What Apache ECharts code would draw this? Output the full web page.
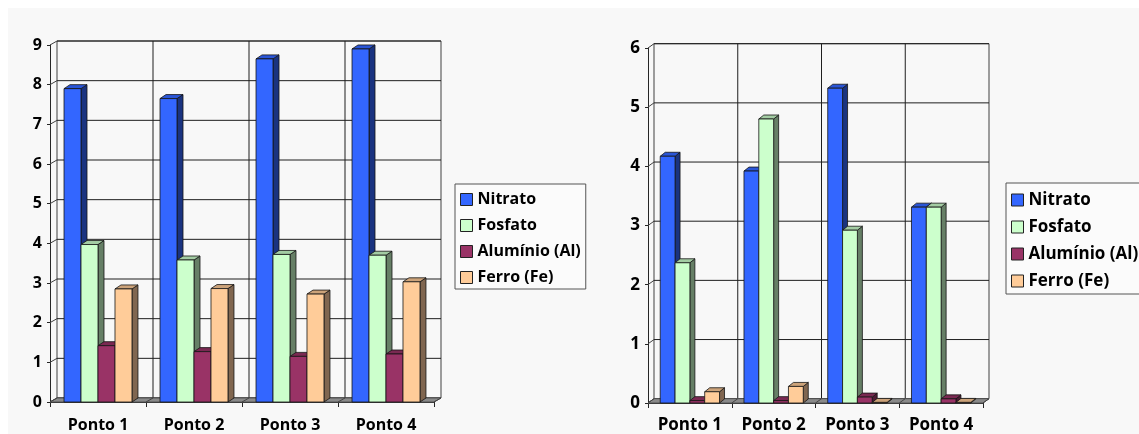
<!DOCTYPE html>
<html>
<head>
<meta charset="utf-8">
<script src="https://cdn.jsdelivr.net/npm/echarts@6/dist/echarts.min.js"></script>
<style>
  html, body { margin: 0; padding: 0; background: #ffffff; }
  #chart { width: 1139px; height: 434px; }
</style>
</head>
<body>
<div id="chart"></div>
<script>
// Categories and series names shared by both panels
const categories = ['Ponto 1', 'Ponto 2', 'Ponto 3', 'Ponto 4'];
const seriesNames = ['Nitrato', 'Fosfato', 'Alumínio (Al)', 'Ferro (Fe)'];

// Left panel values
const nitratoA = [7.9, 7.65, 8.65, 8.9];
const fosfatoA = [3.97, 3.58, 3.72, 3.7];
const aluminioA = [1.42, 1.27, 1.15, 1.21];
const ferroA = [2.85, 2.86, 2.72, 3.03];

// Right panel values
const nitratoB = [4.17, 3.92, 5.32, 3.31];
const fosfatoB = [2.37, 4.8, 2.92, 3.31];
const aluminioB = [0.04, 0.04, 0.1, 0.07];
const ferroB = [0.19, 0.28, 0.01, 0.01];

// Value-axis tick labels
const ticksA = [0, 1, 2, 3, 4, 5, 6, 7, 8, 9];
const ticksB = [0, 1, 2, 3, 4, 5, 6];

const FONT = '"Open Sans", "Noto Sans", sans-serif';

// Face colours for each series: front, side, top
const palette = [
  { front: '#3366FF', side: '#1A3380', top: '#2A55D6' },
  { front: '#CCFFCC', side: '#667F66', top: '#A3CCA3' },
  { front: '#993366', side: '#4D1A33', top: '#7A2952' },
  { front: '#FFCC99', side: '#806650', top: '#CCA37A' }
];

// Back wall, side wall and floor of a pseudo-3D plot
function wallRenderer(ticks, nCat, dx, dy) {
  return function (params, api) {
    const base = api.coord([0, 0]);
    const cw = api.size([1, 0])[0];
    const x0 = base[0] - cw / 2;
    const x1 = x0 + nCat * cw;
    const y0 = base[1];
    const yTop = api.coord([0, ticks[ticks.length - 1]])[1];
    const line = { stroke: '#1f1f1f', lineWidth: 1 };
    const children = [];
    // back wall
    children.push({
      type: 'rect',
      shape: { x: x0 + dx, y: yTop - dy, width: x1 - x0, height: y0 - yTop },
      style: { fill: '#f8f8f8', stroke: '#404040', lineWidth: 1 }
    });
    // horizontal gridlines and side-wall diagonals
    ticks.forEach(function (t) {
      const y = api.coord([0, t])[1];
      children.push({
        type: 'line',
        shape: { x1: x0 + dx, y1: y - dy, x2: x1 + dx, y2: y - dy },
        style: line
      });
      children.push({
        type: 'line',
        shape: { x1: x0, y1: y, x2: x0 + dx, y2: y - dy },
        style: { stroke: '#404040', lineWidth: 1 }
      });
    });
    // vertical category separators on the back wall
    for (let k = 1; k < nCat; k++) {
      const x = x0 + k * cw + dx;
      children.push({
        type: 'line',
        shape: { x1: x, y1: yTop - dy, x2: x, y2: y0 - dy },
        style: line
      });
    }
    // floor
    children.push({
      type: 'polygon',
      shape: { points: [[x0, y0], [x0 + dx, y0 - dy], [x1 + dx, y0 - dy], [x1, y0]] },
      style: { fill: '#8a8a8a', stroke: '#555555', lineWidth: 1 }
    });
    for (let k = 0; k <= nCat; k++) {
      const x = x0 + k * cw;
      children.push({
        type: 'line',
        shape: { x1: x, y1: y0, x2: x + dx, y2: y0 - dy },
        style: { stroke: '#444444', lineWidth: 1 }
      });
    }
    return { type: 'group', children: children };
  };
}

// One column of a clustered pseudo-3D bar set
function barRenderer(slot, colors, dx, dy) {
  return function (params, api) {
    const cat = api.value(0);
    const v = api.value(1);
    const base = api.coord([cat, 0]);
    const top = api.coord([cat, v]);
    const cw = api.size([1, 0])[0];
    const w = cw * 0.177;
    const x = base[0] - cw / 2 + cw * 0.146 + slot * w;
    const yb = base[1];
    const yt = top[1];
    const stroke = { stroke: '#151515', lineWidth: 0.8 };
    return {
      type: 'group',
      children: [
        {
          type: 'polygon',
          shape: { points: [[x + w, yt], [x + w + dx, yt - dy], [x + w + dx, yb - dy], [x + w, yb]] },
          style: Object.assign({ fill: colors.side }, stroke)
        },
        {
          type: 'polygon',
          shape: { points: [[x, yt], [x + dx, yt - dy], [x + w + dx, yt - dy], [x + w, yt]] },
          style: Object.assign({ fill: colors.top }, stroke)
        },
        {
          type: 'rect',
          shape: { x: x, y: yt, width: w, height: yb - yt },
          style: Object.assign({ fill: colors.front }, stroke)
        }
      ]
    };
  };
}

const valuesA = [nitratoA, fosfatoA, aluminioA, ferroA];
const valuesB = [nitratoB, fosfatoB, aluminioB, ferroB];

function xAxisFor(gridIndex, size, margin) {
  return {
    type: 'category',
    gridIndex: gridIndex,
    data: categories,
    boundaryGap: true,
    axisLine: { show: true, lineStyle: { color: '#262626', width: 1 } },
    axisTick: { show: true, length: 5, lineStyle: { color: '#262626' } },
    axisLabel: { margin: margin, fontSize: size, fontWeight: 'bold', color: '#000', fontFamily: FONT },
    splitLine: { show: false }
  };
}

function yAxisFor(gridIndex, max, size) {
  return {
    type: 'value',
    gridIndex: gridIndex,
    min: 0,
    max: max,
    interval: 1,
    axisLine: { show: true, lineStyle: { color: '#262626', width: 1 } },
    axisTick: { show: true, length: 3, lineStyle: { color: '#262626' } },
    axisLabel: { margin: 8, fontSize: size, fontWeight: 'bold', color: '#000', fontFamily: FONT },
    splitLine: { show: false }
  };
}

function legendFor(left, top, gap, size, padding) {
  return {
    orient: 'vertical',
    left: left,
    top: top,
    padding: padding,
    itemGap: gap,
    itemWidth: 12,
    itemHeight: 12,
    icon: 'rect',
    selectedMode: false,
    backgroundColor: '#fbfbfb',
    borderColor: '#555555',
    borderWidth: 1,
    borderRadius: 0,
    textStyle: { fontSize: size, fontWeight: 'bold', color: '#000', fontFamily: FONT, lineHeight: size + 1 },
    data: seriesNames.map(function (n, i) {
      return { name: n, itemStyle: { color: palette[i].front, borderColor: '#222', borderWidth: 1 } };
    })
  };
}

const series = [];
series.push({
  type: 'custom', xAxisIndex: 0, yAxisIndex: 0, silent: true, z: 1,
  renderItem: wallRenderer(ticksA, categories.length, 7, 4),
  data: [[0, 0]]
});
series.push({
  type: 'custom', xAxisIndex: 1, yAxisIndex: 1, silent: true, z: 1,
  renderItem: wallRenderer(ticksB, categories.length, 6, 4.3),
  data: [[0, 0]]
});
seriesNames.forEach(function (name, s) {
  series.push({
    name: name, type: 'custom', xAxisIndex: 0, yAxisIndex: 0, z: 3,
    itemStyle: { color: palette[s].front },
    renderItem: barRenderer(s, palette[s], 6, 4),
    encode: { x: 0, y: 1 },
    data: valuesA[s].map(function (v, i) { return [i, v]; })
  });
  series.push({
    name: name, type: 'custom', xAxisIndex: 1, yAxisIndex: 1, z: 3,
    itemStyle: { color: palette[s].front },
    renderItem: barRenderer(s, palette[s], 5, 4),
    encode: { x: 0, y: 1 },
    data: valuesB[s].map(function (v, i) { return [i, v]; })
  });
});

const chart = echarts.init(document.getElementById('chart'), null, { renderer: 'canvas' });
chart.setOption({
  animation: false,
  backgroundColor: '#ffffff',
  graphic: [{
    type: 'rect', z: -10, silent: true,
    shape: { x: 8, y: 8, width: 1131, height: 426 },
    style: { fill: '#f8f8f8' }
  }],
  grid: [
    { left: 50, top: 45, width: 384, height: 357 },
    { left: 648, top: 48, width: 335, height: 355 }
  ],
  xAxis: [xAxisFor(0, 16, 15), xAxisFor(1, 17, 14)],
  yAxis: [yAxisFor(0, 9, 16), yAxisFor(1, 6, 17)],
  legend: [
    legendFor(455, 184, 9, 16, [7, 5, 3, 5]),
    legendFor(1006, 183, 9, 17, [8, 5, 4, 5])
  ],
  series: series
});
</script>
</body>
</html>
